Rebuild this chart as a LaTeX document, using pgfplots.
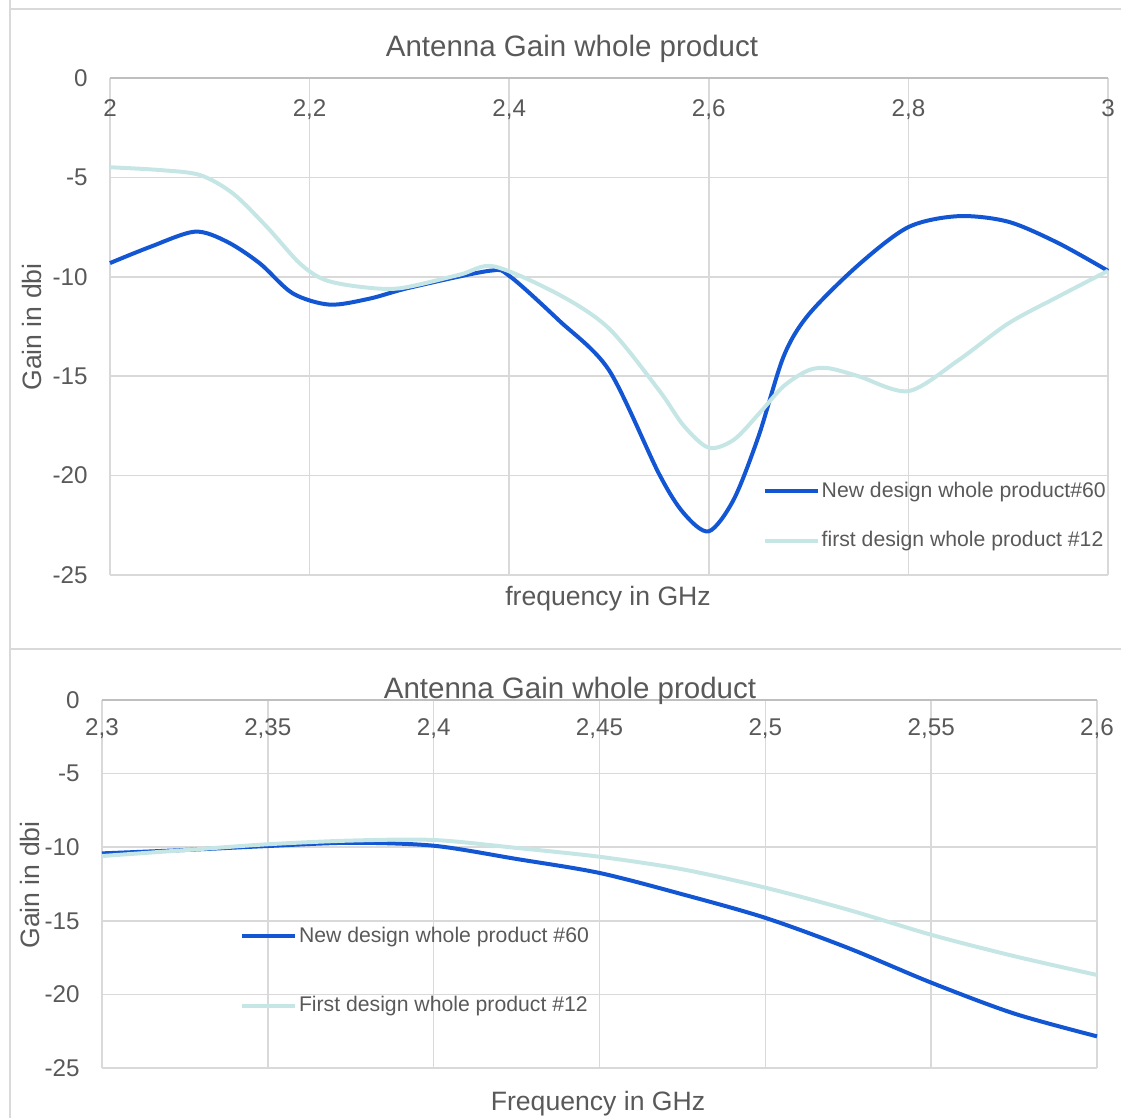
\documentclass[border=0pt]{standalone}
\usepackage{pgfplots}
\pgfplotsset{compat=1.18}
\usepackage{fontspec}
\setmainfont{Liberation Sans}
\definecolor{txt}{HTML}{595959}
\definecolor{gridc}{HTML}{D9D9D9}
\definecolor{axln}{HTML}{BFBFBF}
\definecolor{newc}{HTML}{1256D4}
\definecolor{firstc}{HTML}{C6E6E6}
\pgfplotsset{
 excel/.style={
  scale only axis, anchor=south west,
  axis line style={draw=none},
  major tick length=0pt,
  grid=major, major grid style={draw=gridc, line width=0.75bp},
  xticklabel pos=upper,
  tick label style={font=\fontsize{12.1bp}{14bp}\selectfont, text=txt},
  xticklabel style={anchor=north, inner sep=0pt},
  yticklabel style={anchor=east, inner sep=0pt, xshift=-11bp},
  ymin=-25, ymax=0, ytick={-25,-20,-15,-10,-5,0}, yticklabels={-25,-20,-15,-10,-5,0},
  legend style={draw=none, fill=none, inner sep=0pt, outer sep=0pt,
    font=\fontsize{10.6bp}{12bp}\selectfont, text=txt,
    nodes={inner sep=1bp}, anchor=north west},
  legend cell align=left,
  legend image code/.code={\draw[##1] (0bp,0bp) -- (26.5bp,0bp);},
  clip=false,
 }
}
\begin{document}
\begin{tikzpicture}
\useasboundingbox (0,0) rectangle (560.5bp,559bp);
% chart borders
\draw[gridc, line width=0.75bp] (5bp,559bp) -- (5bp,0bp);
\draw[gridc, line width=0.75bp] (5bp,554.5bp) -- (560.5bp,554.5bp);
\draw[gridc, line width=1.2bp] (5bp,234.5bp) -- (560.5bp,234.5bp);

% top chart
\begin{axis}[excel,
  at={(55bp,271.5bp)}, width=499bp, height=248.5bp,
  xmin=2, xmax=3, xtick={2,2.2,2.4,2.6,2.8,3},
  xticklabels={2,{2,2},{2,4},{2,6},{2,8},3},
  xticklabel style={yshift=-10.7bp},
  legend style={at={(rel axis cs:0.654,0.191)}, row sep=13.6bp},
]
\draw[axln, line width=0.9bp] (rel axis cs:0,1) -- (rel axis cs:1,1);
\addplot[newc, line width=2bp, smooth, tension=0.5] coordinates {
(2.00,-9.31) (2.04,-8.5) (2.085,-7.73) (2.117,-8.23) (2.15,-9.32) (2.183,-10.83)
(2.22,-11.4) (2.26,-11.1) (2.30,-10.55)
(2.38,-9.7) (2.40,-9.95) (2.45,-12.2) (2.50,-14.7) (2.55,-19.9) (2.575,-21.9)
(2.60,-22.8) (2.625,-21.2) (2.65,-18.0) (2.675,-14.0) (2.70,-11.9) (2.75,-9.4)
(2.80,-7.5) (2.85,-6.95) (2.90,-7.23) (2.95,-8.3) (3.00,-9.7)};
\addlegendentry{New design whole product\#60}
\addplot[firstc, line width=2bp, smooth, tension=0.5] coordinates {
(2.00,-4.49) (2.05,-4.63) (2.09,-4.88) (2.123,-5.8) (2.157,-7.48) (2.19,-9.32)
(2.215,-10.15) (2.25,-10.5) (2.29,-10.58) (2.35,-9.9) (2.385,-9.48) (2.45,-10.9) (2.50,-12.6)
(2.55,-15.7) (2.575,-17.5) (2.60,-18.6) (2.625,-18.2) (2.65,-16.9) (2.675,-15.5)
(2.70,-14.7) (2.72,-14.6) (2.75,-15.0) (2.80,-15.75) (2.85,-14.2) (2.90,-12.35)
(2.95,-11.0) (3.00,-9.7)};
\addlegendentry{first design whole product \#12}
\end{axis}
\node[text=txt, font=\fontsize{14.75bp}{17bp}\selectfont] at (286bp,534.5bp) {Antenna Gain whole product};
\node[text=txt, font=\fontsize{13.3bp}{16bp}\selectfont] at (304bp,259.5bp) {frequency in GHz};
\node[text=txt, font=\fontsize{13.3bp}{16bp}\selectfont, rotate=90] at (16bp,395.5bp) {Gain in dbi};

% bottom chart
\begin{axis}[excel,
  at={(51bp,25bp)}, width=497.5bp, height=184bp,
  xmin=2.3, xmax=2.6, xtick={2.3,2.35,2.4,2.45,2.5,2.55,2.6},
  xticklabels={{2,3},{2,35},{2,4},{2,45},{2,5},{2,55},{2,6}},
  xticklabel style={yshift=-9.2bp},
  legend style={at={(rel axis cs:0.1387,0.389)}, row sep=23.6bp},
]
\draw[axln, line width=0.9bp] (rel axis cs:0,1) -- (rel axis cs:1,1);
\addplot[newc, line width=2bp, smooth, tension=0.5] coordinates {
(2.30,-10.42) (2.325,-10.19) (2.35,-9.92) (2.375,-9.7) (2.40,-9.9) (2.425,-10.8)
(2.45,-11.75) (2.475,-13.2) (2.50,-14.8) (2.525,-16.85) (2.55,-19.2) (2.575,-21.3)
(2.60,-22.85)};
\addlegendentry{New design whole product \#60}
\addplot[firstc, line width=2bp, smooth, tension=0.5] coordinates {
(2.30,-10.6) (2.325,-10.2) (2.35,-9.8) (2.375,-9.55) (2.40,-9.51) (2.425,-10.05)
(2.45,-10.65) (2.475,-11.5) (2.50,-12.75) (2.525,-14.25) (2.55,-15.95) (2.575,-17.4)
(2.60,-18.68)};
\addlegendentry{First design whole product \#12}
\end{axis}
\node[text=txt, font=\fontsize{14.75bp}{17bp}\selectfont] at (285bp,213.5bp) {Antenna Gain whole product};
\node[text=txt, font=\fontsize{13.3bp}{16bp}\selectfont] at (299bp,7bp) {Frequency in GHz};
\node[text=txt, font=\fontsize{13.3bp}{16bp}\selectfont, rotate=90] at (15bp,116.5bp) {Gain in dbi};
\end{tikzpicture}
\end{document}
